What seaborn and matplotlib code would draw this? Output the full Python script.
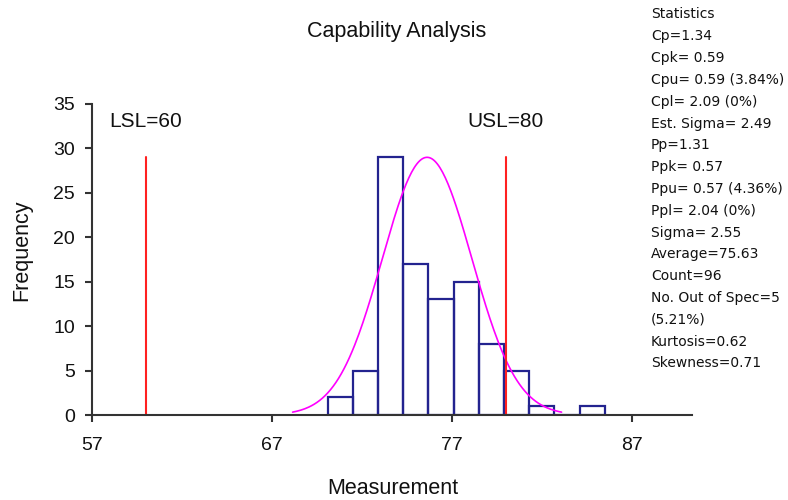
import numpy as np
import pandas as pd
import matplotlib
matplotlib.use('Agg')
import matplotlib.pyplot as plt
import seaborn as sns

# histogram
bin_edges = [70.1, 71.5, 72.9, 74.3, 75.7, 77.1, 78.5, 79.9, 81.3, 82.7, 84.1, 85.5]
counts = [2, 5, 29, 17, 13, 15, 8, 5, 1, 0, 1]

lsl = 60
usl = 80
mean = 75.63
est_sigma = 2.49

stats_lines = [
    'Statistics', 'Cp=1.34', 'Cpk= 0.59', 'Cpu= 0.59 (3.84%)', 'Cpl= 2.09 (0%)',
    'Est. Sigma= 2.49', 'Pp=1.31', 'Ppk= 0.57', 'Ppu= 0.57 (4.36%)', 'Ppl= 2.04 (0%)',
    'Sigma= 2.55', 'Average=75.63', 'Count=96', 'No. Out of Spec=5', '(5.21%)',
    'Kurtosis=0.62', 'Skewness=0.71',
]

x_ticks = [57, 67, 77, 87]
y_ticks = [0, 5, 10, 15, 20, 25, 30, 35]

sns.set_style('ticks')
plt.rcParams['font.family'] = ['Liberation Sans', 'DejaVu Sans']
plt.rcParams['text.color'] = '#111111'
plt.rcParams['xtick.labelcolor'] = '#111111'
plt.rcParams['ytick.labelcolor'] = '#111111'

centers = [(a + b) / 2 for a, b in zip(bin_edges[:-1], bin_edges[1:])]
df = pd.DataFrame({'x': centers, 'n': counts})

# normal curve over mean +/- 3 sigma, scaled to the tallest bar
peak = max(counts)
cx = np.linspace(mean - 3 * est_sigma, mean + 3 * est_sigma, 200)
cy = peak * np.exp(-0.5 * ((cx - mean) / est_sigma) ** 2)
curve = pd.DataFrame({'x': cx, 'y': cy})

fig = plt.figure(figsize=(7.88, 5), dpi=100)
ax = fig.add_axes([0.1164, 0.17, 0.7614, 0.622])

sns.histplot(data=df, x='x', weights='n', bins=bin_edges, fill=False,
             color='#23238f', linewidth=1.6, ax=ax)
sns.lineplot(data=curve, x='x', y='y', color='#ff00ff', linewidth=1.2, ax=ax)

for v, name in [(lsl, 'LSL'), (usl, 'USL')]:
    ax.plot([v, v], [0, peak], color='#ff2020', linewidth=1.5)
    ax.text(v, 33.0, f'{name}={v}', ha='center', va='center', fontsize=15)

ax.set_xlim(57, 90.33)
ax.set_ylim(0, 35)
ax.set_xticks(x_ticks)
ax.set_yticks(y_ticks)
ax.tick_params(axis='x', length=5, width=1.5, pad=11, labelsize=14, color='#333333')
ax.tick_params(axis='y', length=5, width=1.5, pad=7, labelsize=14, color='#333333')
for s in ['left', 'bottom']:
    ax.spines[s].set_linewidth(1.5)
    ax.spines[s].set_color('#333333')
sns.despine(ax=ax)
ax.set_xlabel('')
ax.set_ylabel('')

fig.text(0.503, 0.936, 'Capability Analysis', ha='center', va='center', fontsize=15.5)
fig.text(0.499, 0.024, 'Measurement', ha='center', va='center', fontsize=15.5)
fig.text(0.028, 0.5, 'Frequency', ha='center', va='center', rotation=90, fontsize=15.5)

fig.text(0.826, 0.985, '\n'.join(stats_lines), ha='left', va='top',
         fontsize=10, linespacing=1.71, family='DejaVu Sans')

fig.savefig('out.png', dpi=100)
